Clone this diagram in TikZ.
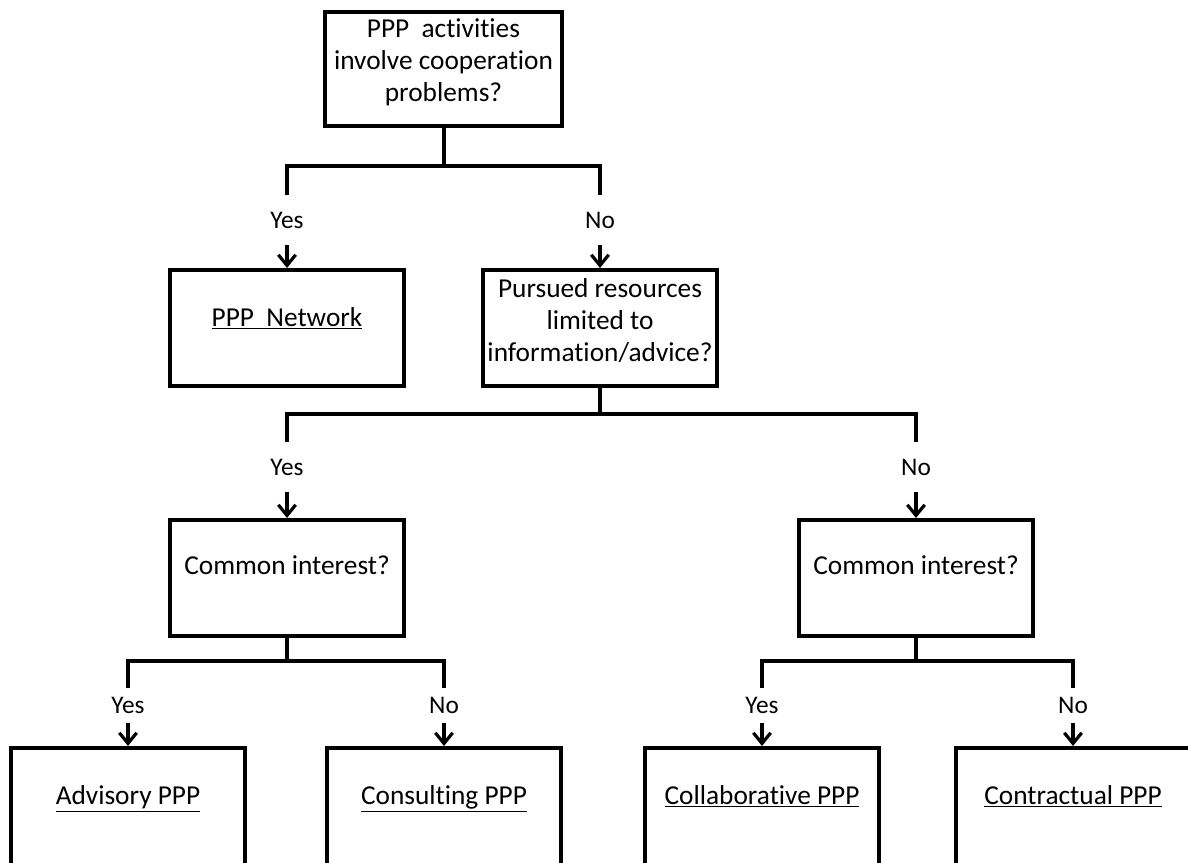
\documentclass[tikz,border=0pt]{standalone}
\usepackage{fontspec}
\setmainfont{Carlito}[Ligatures=NoCommon]
\usetikzlibrary{arrows.meta}
\tikzset{
  box/.style={draw, line width=3pt, rectangle, inner sep=0pt, minimum width=176pt, minimum height=87pt},
  bigbox/.style={box, minimum height=105pt},
  txt/.style={font=\fontsize{20.5}{24}\selectfont, align=center, inner sep=0pt},
  one/.style={txt, text height=14pt, text depth=4pt},
  lab/.style={font=\fontsize{19}{22}\selectfont, inner sep=0pt, minimum width=30pt},
  conn/.style={line width=3pt},
  arr/.style={line width=2.4pt, -{Straight Barb[length=8pt,width=13pt]}}
}
\begin{document}
\begin{tikzpicture}[x=0.75pt, y=-0.75pt]
\fill[white] (0,0) rectangle (1188,863);
\useasboundingbox (0,0) rectangle (1188,863);
\clip (0,0) rectangle (1188,863);

% boxes
\node[box, minimum width=177.75pt, minimum height=85.5pt] (top) at (443.5,69) {};
\node[box] (net) at (287,328) {};
\node[box] (pur) at (600,328) {};
\node[box] (ci1) at (287,578) {};
\node[box] (ci2) at (916,578) {};
\node[bigbox] (adv) at (128,818) {};
\node[bigbox] (con) at (444,818) {};
\node[bigbox] (col) at (762,818) {};
\node[bigbox] (ctr) at (1073,818) {};

% texts
\node[txt] (ttop) at (443.5,62) {PPP\hspace{0.45em}activities\\involve cooperation\\problems?};
\node[one] (tnet) at (287,320) {\underline{PPP\hspace{0.45em}Network}};
\node[txt] (tpur) at (600,321) {Pursued resources\\limited to\\information/advice?};
\node[one] (tci1) at (287,568) {Common interest?};
\node[one] (tci2) at (916,568) {Common interest?};
\node[one] (tadv) at (128,798) {\underline{Advisory PPP}};
\node[one] (tcon) at (444,798) {\underline{Consulting PPP}};
\node[one] (tcol) at (762,798) {\underline{Collaborative PPP}};
\node[one] (tctr) at (1073,798) {\underline{Contractual PPP}};

% labels
\node[lab, minimum height=37.5pt] (y1) at (287,220) {Yes};
\node[lab, minimum height=37.5pt] (n1) at (600,220) {No};
\node[lab, minimum height=37.5pt] (y2) at (287,467) {Yes};
\node[lab, minimum height=37.5pt] (n2) at (916,467) {No};
\node[lab, minimum height=26.25pt] (y3) at (128,705.5) {Yes};
\node[lab, minimum height=26.25pt] (n3) at (444,705.5) {No};
\node[lab, minimum height=26.25pt] (y4) at (762,705.5) {Yes};
\node[lab, minimum height=26.25pt] (n4) at (1073,705.5) {No};

% junctions
\coordinate (j0) at (443.5,166);
\coordinate (j1) at (600,414);
\coordinate (j2) at (287,661);
\coordinate (j3) at (916,661);

% tree lines
\draw[conn] (top.south) -- (j0);
\draw[conn] (y1.north) |- (j0) -| (n1.north);
\draw[conn] (pur.south) -- (j1);
\draw[conn] (y2.north) |- (j1) -| (n2.north);
\draw[conn] (ci1.south) -- (j2);
\draw[conn] (y3.north) |- (j2) -| (n3.north);
\draw[conn] (ci2.south) -- (j3);
\draw[conn] (y4.north) |- (j3) -| (n4.north);

% arrows
\draw[arr] (y1.south) -- (net.north);
\draw[arr] (n1.south) -- (pur.north);
\draw[arr] (y2.south) -- (ci1.north);
\draw[arr] (n2.south) -- (ci2.north);
\draw[arr] (y3.south) -- (adv.north);
\draw[arr] (n3.south) -- (con.north);
\draw[arr] (y4.south) -- (col.north);
\draw[arr] (n4.south) -- (ctr.north);
\end{tikzpicture}
\end{document}
